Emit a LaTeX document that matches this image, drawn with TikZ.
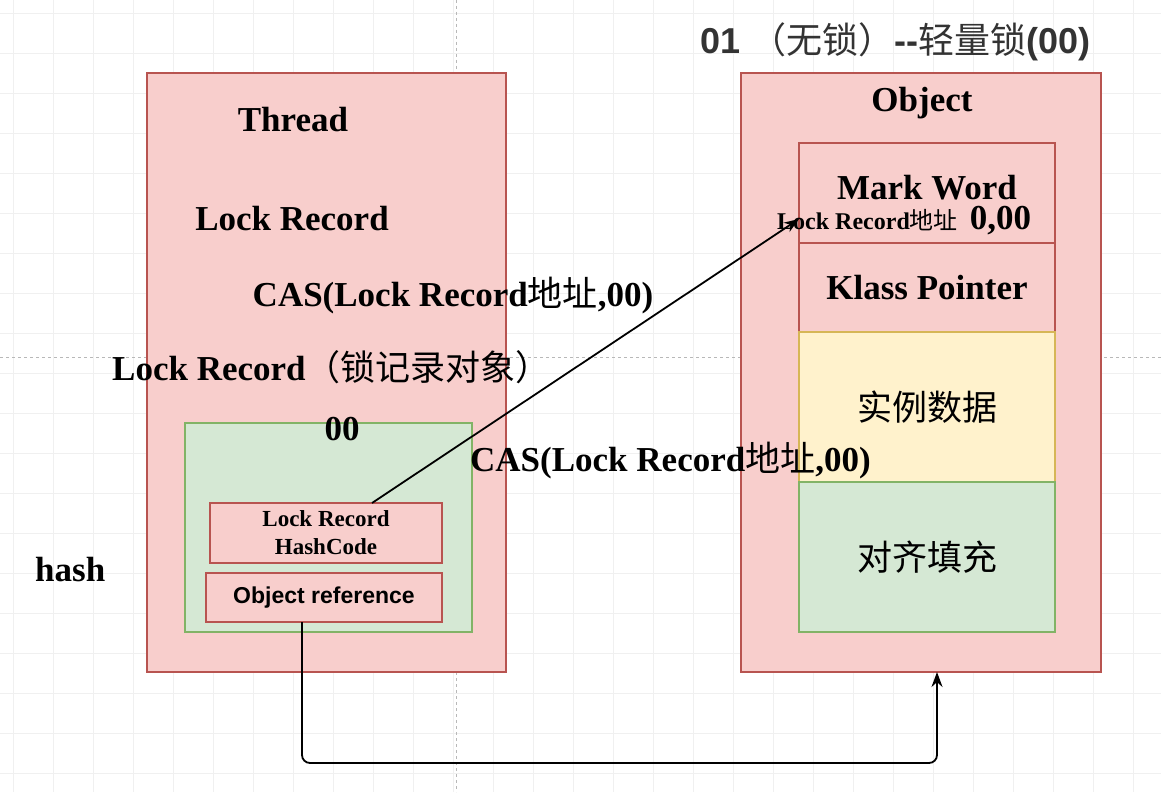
\documentclass[tikz,border=0pt]{standalone}
\usepackage{fontspec}
\setmainfont{Liberation Serif}
\newfontfamily\cjk{Noto Sans CJK SC}
\newfontfamily\arial{Liberation Sans}
\usetikzlibrary{arrows.meta,positioning}
\definecolor{pinkfill}{HTML}{F8CECC}
\definecolor{pinkline}{HTML}{B85450}
\definecolor{greenfill}{HTML}{D5E8D4}
\definecolor{greenline}{HTML}{82B366}
\definecolor{yellowfill}{HTML}{FFF2CC}
\definecolor{yellowline}{HTML}{D6B656}
\newcommand{\zh}[1]{{\cjk\mdseries #1}}

\begin{document}
\begin{tikzpicture}[x=1pt, y=-1pt,
  box/.style={draw, line width=2pt, inner sep=0pt, outer sep=0pt},
  pinkbox/.style={box, draw=pinkline, fill=pinkfill},
  greenbox/.style={box, draw=greenline, fill=greenfill},
  yellowbox/.style={box, draw=yellowline, fill=yellowfill},
  big/.style={font=\fontsize{35}{40}\selectfont\bfseries, inner sep=0pt},
  small/.style={font=\fontsize{23}{28}\selectfont\bfseries, inner sep=0pt},
  link/.style={line width=1.8pt, -{Stealth[length=15pt, width=11pt]}},
  gridline/.style={black!6, line width=0.6pt}]
  \useasboundingbox (0,0) rectangle (1161,792);
  \fill[white] (0,0) rectangle (1161,792);
  % background grid
  \foreach \gx in {13,53,...,1161} \draw[gridline] (\gx,0) -- (\gx,792);
  \foreach \gy in {13,53,...,792} \draw[gridline] (0,\gy) -- (1161,\gy);
  \draw[black!28, dashed, line width=0.7pt] (0,357) -- (1161,357);
  \draw[black!28, dashed, line width=0.7pt] (456,0) -- (456,792);

  % thread side
  \node[pinkbox, minimum width=359pt, minimum height=599pt] (thread) at (326.5,372.5) {};
  \node[big, anchor=base] (threadtitle) at (293,131) {Thread};
  \node[big, anchor=base] (lockrec) at (292,230) {Lock Record};
  \node[big, anchor=base] (casleft) at (453,306) {CAS(Lock Record\zh{地址},00)};
  \node[big, anchor=base west] (lrobj) at (112,380) {Lock Record\zh{（锁记录对象）}};
  \node[greenbox, minimum width=287pt, minimum height=209pt] (record) at (328.5,527.5) {};
  \node[big, anchor=base] (zero) at (342,440) {00};
  \node[pinkbox, small, minimum width=232pt, minimum height=60pt, align=center] (lrhash) at (326,533) {Lock Record\\HashCode};
  \node[pinkbox, minimum width=236pt, minimum height=49pt, font=\arial\bfseries\fontsize{23}{28}\selectfont] (objref) at (324,597.5) {Object reference};
  \node[big, anchor=base west] (hash) at (35,581) {hash};

  % object side
  \node[pinkbox, minimum width=360pt, minimum height=599pt] (obj) at (921,372.5) {};
  \node[big, anchor=base] (objtitle) at (922,111) {Object};
  \node[pinkbox, minimum width=256pt, minimum height=100pt] (mark) at (927,193) {};
  \node[big, anchor=base] (marktext) at (927,199) {Mark Word};
  \node[anchor=base west, inner sep=0pt, font=\bfseries] (markaddr) at (777,229)
    {{\fontsize{24}{28}\selectfont Lock Record\zh{地址}}\hspace{12pt}{\fontsize{35}{40}\selectfont 0,00}};
  \node[pinkbox, big, minimum width=256pt, minimum height=89pt, below=0pt of mark] (klass) {Klass Pointer};
  \node[yellowbox, minimum width=256pt, minimum height=150pt, below=0pt of klass, font=\cjk\fontsize{35}{40}\selectfont] (inst) {实例数据};
  \node[greenbox, minimum width=256pt, minimum height=150pt, below=0pt of inst, font=\cjk\fontsize{35}{40}\selectfont] (pad) {对齐填充};
  \node[big, anchor=base west] (casright) at (470,471) {CAS(Lock Record\zh{地址},00)};

  \node[anchor=base west, inner sep=0pt, text=black!80, font=\arial\bfseries\fontsize{36}{40}\selectfont] (title) at (700,53)
    {01 \zh{（无锁）}--\zh{轻量锁}(00)};

  % connectors
  \draw[link] ([xshift=46pt]lrhash.north) -- ([yshift=-26pt]mark.west);
  \draw[link, rounded corners=8pt] ([xshift=-22pt]objref.south) -- ++(0,141) -| ([xshift=16pt]obj.south);
\end{tikzpicture}
\end{document}
